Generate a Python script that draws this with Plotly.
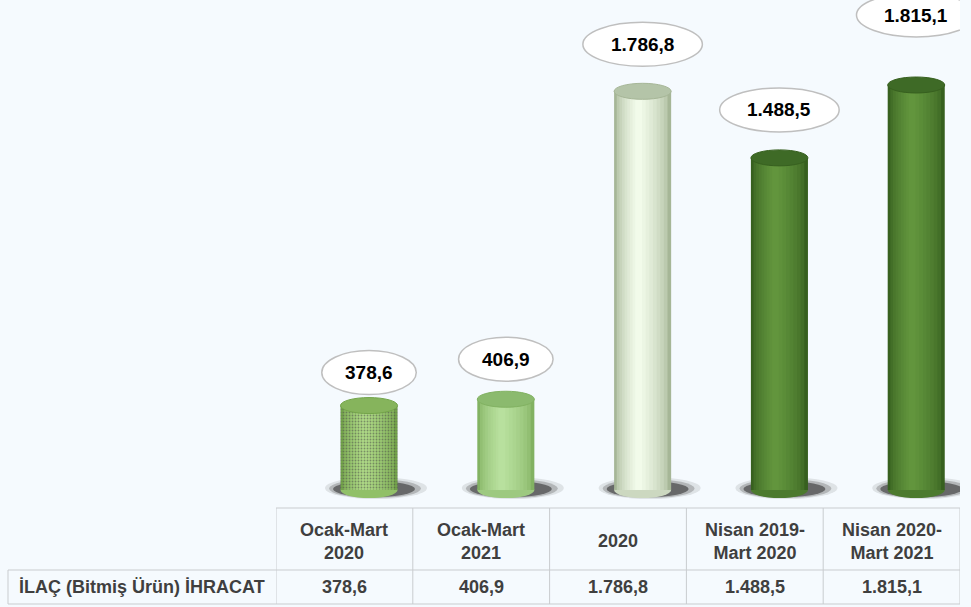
import plotly.graph_objects as go

# ---------------- data ----------------
categories = ["Ocak-Mart<br>2020", "Ocak-Mart<br>2021", "2020",
              "Nisan 2019-<br>Mart 2020", "Nisan 2020-<br>Mart 2021"]
values = [378.6, 406.9, 1786.8, 1488.5, 1815.1]
value_labels = ["378,6", "406,9", "1.786,8", "1.488,5", "1.815,1"]
row_label = "İLAÇ (Bitmiş Ürün) İHRACAT"

# ---------------- styles ----------------
BG = "#F5FAFE"
edge_col = ["#74A54A", "#82B262", "#A6B697", "#37601F", "#37601F"]
high_col = ["#AEDA86", "#B8E09E", "#F2FBEA", "#62953D", "#62953D"]
cap_col = ["#86B45C", "#8BBA6E", "#B4C4A8", "#3E6A26", "#3E6A26"]
patterns = [".", "", "", "", ""]
label_offsets = [33, 40, 47, 48, 70]   # px above bar top

BAR_SHIFT = 0.18
BAR_W = 0.417
N_LAYERS = 9
TXT = "#3F3F3F"
FONT = "Liberation Sans, Arial, sans-serif"


def hex2rgb(h):
    h = h.lstrip("#")
    return [int(h[i:i + 2], 16) for i in (0, 2, 4)]


def mix(a, b, t):
    ra, rb = hex2rgb(a), hex2rgb(b)
    return "rgb(%d,%d,%d)" % tuple(round(ra[i] + (rb[i] - ra[i]) * t) for i in range(3))


xs = list(range(len(values)))
fig = go.Figure()

# cylinder body, drawn as overlaid bars of decreasing width (shading)
for k in range(N_LAYERS):
    t = k / (N_LAYERS - 1)
    w = BAR_W * (1 - 0.88 * t)
    c_rel = -0.07 * BAR_W * t
    colors = [mix(edge_col[i], high_col[i], t ** 0.6) for i in xs]
    fig.add_trace(go.Bar(
        x=xs, y=values, width=w, offset=BAR_SHIFT + c_rel - w / 2,
        marker=dict(color=colors, line=dict(width=0),
                    pattern=dict(shape=patterns, fgcolor="rgba(70,125,40,0.28)",
                                 size=3, solidity=0.3)),
        hoverinfo="skip", showlegend=False))

shapes = []
annotations = []
for i in xs:
    xc = i + BAR_SHIFT
    # soft shadow (three layers)
    for (a, b, c, d, col) in ((-44, 58, -9, 13, "rgba(120,120,120,0.18)"),
                              (-40, 52, -8, 11, "rgba(80,80,80,0.30)"),
                              (-36, 46, -7, 9, "rgba(40,40,40,0.55)")):
        shapes.append(dict(type="circle", xref="x", yref="y", layer="below",
                           xsizemode="pixel", ysizemode="pixel", xanchor=xc, yanchor=0,
                           x0=a, x1=b, y0=c, y1=d, line=dict(width=0), fillcolor=col))
    # bottom ellipse
    shapes.append(dict(type="circle", xref="x", yref="y", layer="below",
                       ysizemode="pixel", yanchor=0,
                       x0=xc - BAR_W / 2, x1=xc + BAR_W / 2, y0=-8, y1=8,
                       line=dict(width=0), fillcolor=mix(edge_col[i], high_col[i], 0.5)))
    # top cap
    shapes.append(dict(type="circle", xref="x", yref="y", layer="above",
                       ysizemode="pixel", yanchor=values[i],
                       x0=xc - BAR_W / 2, x1=xc + BAR_W / 2, y0=-8, y1=8,
                       line=dict(width=1, color=edge_col[i]), fillcolor=cap_col[i]))
    # label ellipse
    ew = 12.5 * len(value_labels[i]) + 32
    off = label_offsets[i]
    shapes.append(dict(type="circle", xref="x", yref="y", layer="above",
                       xsizemode="pixel", ysizemode="pixel", xanchor=xc, yanchor=values[i],
                       x0=-ew / 2, x1=ew / 2, y0=off - 22, y1=off + 22,
                       line=dict(width=1.5, color="#BFBFBF"), fillcolor="#FFFFFF"))
    annotations.append(dict(x=xc, y=values[i], xref="x", yref="y", yshift=off,
                            xanchor="center", yanchor="middle",
                            text="<b>%s</b>" % value_labels[i], showarrow=False,
                            font=dict(size=19, color="#000000", family=FONT)))
    # table texts
    annotations.append(dict(x=i, y=0, xref="x", yref="paper", yshift=-34,
                            xanchor="center", yanchor="middle",
                            text="<b>%s</b>" % categories[i], showarrow=False,
                            font=dict(size=18, color=TXT, family=FONT)))
    annotations.append(dict(x=i, y=0, xref="x", yref="paper", yshift=-80,
                            xanchor="center", yanchor="middle",
                            text="<b>%s</b>" % value_labels[i], showarrow=False,
                            font=dict(size=18, color=TXT, family=FONT)))

annotations.append(dict(x=0, y=0, xref="paper", yref="paper", xshift=-134, yshift=-80,
                        xanchor="center", yanchor="middle",
                        text="<b>%s</b>" % row_label, showarrow=False,
                        font=dict(size=18, color=TXT, family=FONT)))

# table grid lines (pixel offsets from plot-area bottom)
LC = "#C9CCCF"
n = len(values)
for j in range(n + 1):
    shapes.append(dict(type="line", xref="x", yref="paper", ysizemode="pixel", yanchor=0,
                       x0=j - 0.5, x1=j - 0.5, y0=-1, y1=-97, line=dict(color=LC, width=1)))
shapes.append(dict(type="line", xref="paper", yref="paper", xsizemode="pixel",
                   ysizemode="pixel", xanchor=0, yanchor=0,
                   x0=-268, x1=-268, y0=-63, y1=-97, line=dict(color=LC, width=1)))
shapes.append(dict(type="line", xref="x", yref="paper", ysizemode="pixel", yanchor=0,
                   x0=-0.5, x1=n - 0.5, y0=-1, y1=-1, line=dict(color=LC, width=1)))
for yy in (-63, -97):
    shapes.append(dict(type="line", xref="paper", yref="paper", xsizemode="pixel",
                       ysizemode="pixel", xanchor=0, yanchor=0,
                       x0=-268, x1=684, y0=yy, y1=yy, line=dict(color=LC, width=1)))

fig.update_layout(
    width=971, height=607,
    margin=dict(l=276, r=11, t=0, b=100),
    paper_bgcolor=BG, plot_bgcolor=BG,
    barmode="overlay",
    xaxis=dict(range=[-0.5, n - 0.5], visible=False, fixedrange=True),
    yaxis=dict(range=[-76, 2196], visible=False, fixedrange=True),
    shapes=shapes, annotations=annotations,
    showlegend=False,
)

fig.write_html("out.html", config={"displayModeBar": False},
               post_script="document.body.style.margin='0';document.body.style.background='%s';" % BG)
